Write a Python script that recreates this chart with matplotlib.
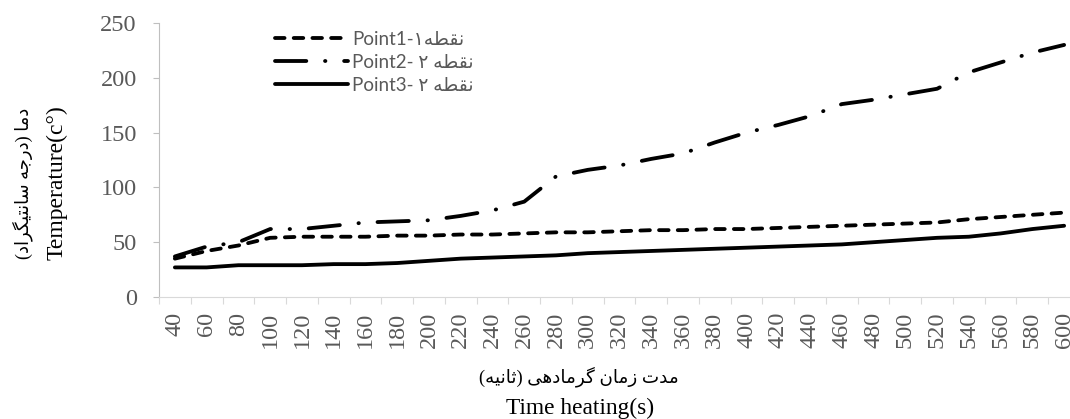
import matplotlib
matplotlib.use('Agg')
import matplotlib.pyplot as plt
from matplotlib.font_manager import FontProperties

# heating time categories (s) and temperatures
time_s = [40, 60, 80, 100, 120, 140, 160, 180, 200, 220, 240, 260, 280, 300, 320,
          340, 360, 380, 400, 420, 440, 460, 480, 500, 520, 540, 560, 580, 600]
point1 = [35, 42, 47, 54, 55, 55, 55, 56, 56, 57, 57, 58, 59, 59, 60,
          61, 61, 62, 62, 63, 64, 65, 66, 67, 68, 71, 73, 75, 77]
point2 = [37, 46, 50, 62, 62, 65, 68, 69, 70, 74, 79, 87, 110, 116, 120,
          126, 131, 141, 150, 157, 165, 176, 180, 185, 190, 205, 214, 223, 230]
point3 = [27, 27, 29, 29, 29, 30, 30, 31, 33, 35, 36, 37, 38, 40, 41,
          42, 43, 44, 45, 46, 47, 48, 50, 52, 54, 55, 58, 62, 65]
y_ticks = [0, 50, 100, 150, 200, 250]

# minimal persian shaping (matplotlib has no bidi / joining support)
FORMS = {
    'ا': ('\uFE8D', '\uFE8E', None, None),
    'ب': ('\uFE8F', '\uFE90', '\uFE91', '\uFE92'),
    'ت': ('\uFE95', '\uFE96', '\uFE97', '\uFE98'),
    'ث': ('\uFE99', '\uFE9A', '\uFE9B', '\uFE9C'),
    'ج': ('\uFE9D', '\uFE9E', '\uFE9F', '\uFEA0'),
    'د': ('\uFEA9', '\uFEAA', None, None),
    'ر': ('\uFEAD', '\uFEAE', None, None),
    'ز': ('\uFEAF', '\uFEB0', None, None),
    'س': ('\uFEB1', '\uFEB2', '\uFEB3', '\uFEB4'),
    'ط': ('\uFEC1', '\uFEC2', '\uFEC3', '\uFEC4'),
    'ق': ('\uFED5', '\uFED6', '\uFED7', '\uFED8'),
    'م': ('\uFEE1', '\uFEE2', '\uFEE3', '\uFEE4'),
    'ن': ('\uFEE5', '\uFEE6', '\uFEE7', '\uFEE8'),
    'ه': ('\uFEE9', '\uFEEA', '\uFEEB', '\uFEEC'),
    'و': ('\uFEED', '\uFEEE', None, None),
    'ی': ('\uFBFC', '\uFBFD', '\uFBFE', '\uFBFF'),
    'گ': ('\uFB92', '\uFB93', '\uFB94', '\uFB95'),
}


def fa(text):
    out = []
    for i, c in enumerate(text):
        if c not in FORMS:
            out.append(c)
            continue
        prev = text[i - 1] if i > 0 else ''
        nxt = text[i + 1] if i + 1 < len(text) else ''
        p = prev in FORMS and FORMS[prev][2] is not None
        n = nxt in FORMS and FORMS[c][2] is not None
        iso, fin, ini, med = FORMS[c]
        if p and n:
            out.append(med)
        elif p:
            out.append(fin)
        elif n:
            out.append(ini)
        else:
            out.append(iso)
    s = ''.join(reversed(out))
    return s.translate(str.maketrans('()', ')('))


serif = ['Liberation Serif', 'DejaVu Sans']
sans = ['Lato', 'DejaVu Sans']
gray = '#595959'

fig = plt.figure(figsize=(10.70, 4.19), dpi=100)
ax = fig.add_axes([159 / 1070, 1 - 297 / 419, (1080 - 159) / 1070, (297 - 23) / 419])

x = list(range(len(time_s)))
lw = 2.75
ax.plot(x, point1, color='black', lw=lw, linestyle=(0, (2.5, 2.4)),
        dash_capstyle='round', label='Point1-' + fa('نقطه۱'))
ax.plot(x, point2, color='black', lw=lw, linestyle=(0, (8.2, 4.9, 0.1, 4.9)),
        dash_capstyle='round', label='Point2- ' + fa('نقطه ۲'))
ax.plot(x, point3, color='black', lw=lw, solid_capstyle='round',
        label='Point3- ' + fa('نقطه ۲'))

ax.set_xlim(-0.5, len(time_s) - 0.5)
ax.set_ylim(0, 250)
ax.set_yticks(y_ticks)
ax.set_yticklabels([str(v) for v in y_ticks], family=serif, fontsize=17.5, color=gray)

# tick marks between categories, labels at category centres
ax.set_xticks([i - 0.5 for i in range(len(time_s) + 1)])
ax.set_xticklabels([])
ax.set_xticks(x, minor=True)
ax.set_xticklabels([str(t) for t in time_s], minor=True, rotation=90,
                   family=serif, fontsize=17.5, color=gray)
ax.tick_params(axis='x', which='major', length=5, color='#d9d9d9', direction='out')
ax.tick_params(axis='x', which='minor', length=0, pad=10.5)
ax.tick_params(axis='y', length=4, color='#bfbfbf', pad=12)

for s in ['top', 'right']:
    ax.spines[s].set_visible(False)
ax.spines['left'].set_color('#bfbfbf')
ax.spines['bottom'].set_color('#d9d9d9')

fig.text(579 / 1070, 1 - 377 / 419, fa('مدت زمان گرمادهی (ثانیه)'), family=serif,
         fontsize=13.2, ha='center', va='center')
fig.text(580 / 1070, 1 - 408 / 419, 'Time heating(s)', family=serif,
         fontsize=16.8, ha='center', va='center')
fig.text(23 / 1070, 1 - 183 / 419, fa('دما (درجه سانتیگراد)'), family=serif,
         fontsize=13, rotation=90, ha='center', va='center')
fig.text(57 / 1070, 1 - 183 / 419, 'Temperature(c°)', family=serif,
         fontsize=17, rotation=90, ha='center', va='center')

leg = ax.legend(loc='upper left', bbox_to_anchor=(275 / 1070, 1 - 31 / 419),
                bbox_transform=fig.transFigure, frameon=False,
                prop=FontProperties(family=sans, size=13.5), handlelength=3.9,
                handletextpad=0.22, labelspacing=0.32, borderaxespad=0, borderpad=0)
for t in leg.get_texts():
    t.set_color(gray)

fig.savefig('out.png', dpi=100)
